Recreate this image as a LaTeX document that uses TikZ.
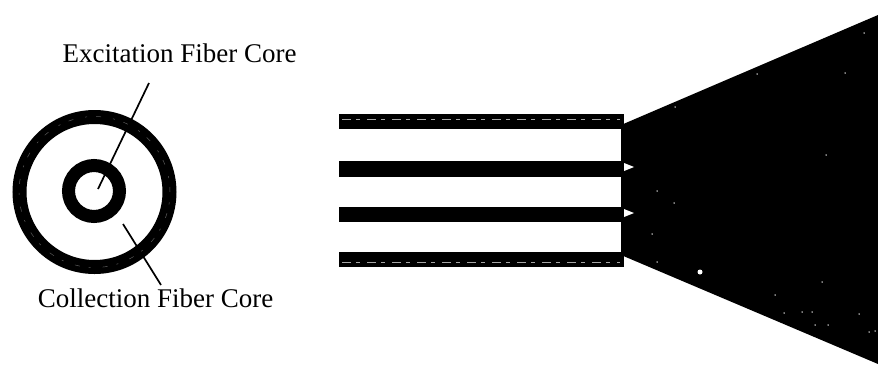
\documentclass[tikz,border=0pt]{standalone}
\usepackage{fontspec}
\setmainfont{Liberation Serif}
\usetikzlibrary{positioning}
\tikzset{
	ring/.style={circle, draw=black, fill=white, inner sep=0pt}, % fiber core cross section
	bar/.style={rectangle, fill=black, inner sep=0pt, minimum width=285pt, anchor=west}, % side view of a core
	streak/.style={draw=white!65!black, line width=0.8pt, dash pattern=on 9pt off 5pt on 4pt off 7pt},
	ringstreak/.style={draw=white!35!black, line width=0.5pt, dash pattern=on 5pt off 9pt on 2pt off 12pt},
	speck/.style={circle, fill=white, inner sep=0pt, minimum size=1.5pt},
	label/.style={font=\fontsize{27}{30}\selectfont, inner sep=0pt},
	leader/.style={draw=black, line width=1.7pt},
}
\begin{document}
\begin{tikzpicture}[x=1pt, y=-1pt]
	\useasboundingbox (0,0) rectangle (878,367);
	% Cross section
	\node[ring, line width=14pt, minimum size=150pt] (outer) at (94.5,192) {};
	\node[circle, ringstreak, inner sep=0pt, minimum size=151pt] (outerstreak) at (94.5,192) {};
	\node[ring, line width=13pt, minimum size=51pt] (inner) at (94,191) {};
	\node[label] (excitation) at (179.5,53) {Excitation Fiber Core};
	\node[label] (collection) at (155.5,298) {Collection Fiber Core};
	\coordinate (extop) at (149,83);
	\coordinate (exend) at (98,189);
	\coordinate (coltop) at (123,224);
	\coordinate (colend) at (161,285);
	\draw[leader] (extop) -- (exend);
	\draw[leader] (coltop) -- (colend);
	
	% Emerging light
	\coordinate (conea) at (621,125);
	\coordinate (coneb) at (878,15);
	\coordinate (conec) at (878,364);
	\coordinate (coned) at (621,255);
	\fill[black] (conea) -- (coneb) -- (conec) -- (coned) -- cycle;
	
	% Side view
	\node[bar, minimum height=15pt] (bara) at (339,121.5) {};
	\node[bar, minimum height=16pt] (barb) at (339,169) {};
	\node[bar, minimum height=15pt] (barc) at (339,214.5) {};
	\node[bar, minimum height=15pt] (bard) at (339,259.5) {};
	\draw[streak] (bara.west) ++(3,-2.5) -- ++(278,0);
	\draw[streak] (bard.west) ++(3,2.5) -- ++(278,0);
	\fill[white] (624,163) -- (634,167) -- (624,171) -- cycle;
	\fill[white] (624,209) -- (634,213) -- (624,217) -- cycle;
	
	% Specks in the light
	\node[speck, minimum size=5pt] (spot) at (700,272) {};
	\foreach \x/\y in {652/234, 675/107, 757/74, 845/73, 864/33, 826/155, 784/313, 802/312, 812/312, 815/325, 828/325, 859/314, 869/332, 875/331, 822/282, 775/295, 657/262, 674/203, 657/191}
		\node[speck] at (\x,\y) {};
\end{tikzpicture}
\end{document}
